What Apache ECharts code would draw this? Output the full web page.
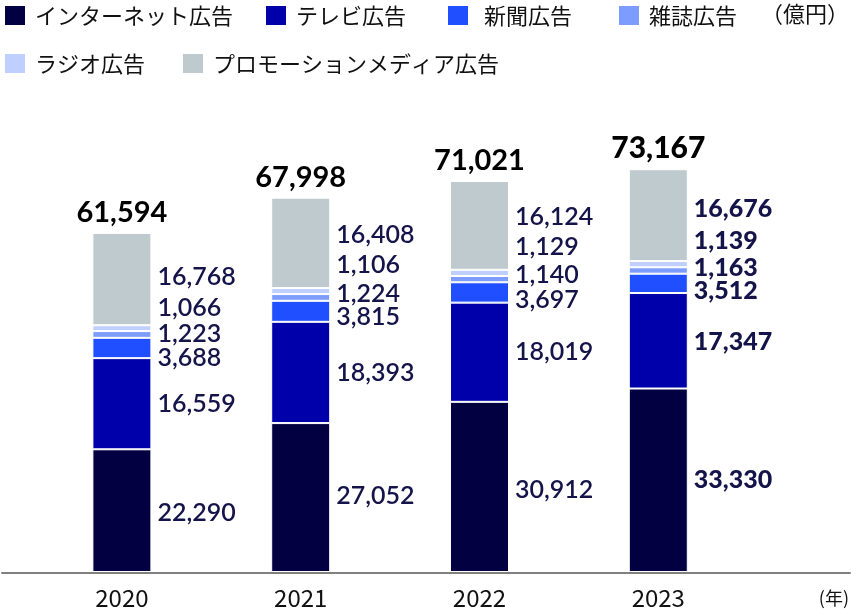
<!DOCTYPE html>
<html><head><meta charset="utf-8">
<script src="https://cdn.jsdelivr.net/npm/echarts@6/dist/echarts.min.js"></script>
<style>html,body{margin:0;padding:0;background:#fff}#c{width:851px;height:610px}</style>
</head><body><div id="c"></div>
<script>
// ---- data ----
const years = ['2020', '2021', '2022', '2023'];
const seriesNames = ['インターネット広告', 'テレビ広告', '新聞広告', '雑誌広告', 'ラジオ広告', 'プロモーションメディア広告'];
const internet = [22290, 27052, 30912, 33330];
const tv = [16559, 18393, 18019, 17347];
const newspaper = [3688, 3815, 3697, 3512];
const magazine = [1223, 1224, 1140, 1163];
const radio = [1066, 1106, 1129, 1139];
const promotion = [16768, 16408, 16124, 16676];
const totals = [61594, 67998, 71021, 73167];
const unitLabel = '（億円）';
const yearUnitLabel = '(年)';

// ---- styles ----
const values = [internet, tv, newspaper, magazine, radio, promotion];
const colors = ['#020040', '#0000aa', '#1f4fff', '#7d9cff', '#bfcfff', '#bfcacf'];
const labelDy = [[2, -2, 3, 0], [0, 0, 0, 1], [10, 6, 7, 8], [-1, -4, -4, -3], [-20, -26, -26, -23], [-2, -8, -8, -6]];
const legendPos = [
  { left: 3, top: 4, pad: 4 }, { left: 264, top: 4, pad: 4 }, { left: 446, top: 4, pad: 10 },
  { left: 617, top: 4, pad: 4 }, { left: 3, top: 52, pad: 4 }, { left: 181, top: 52, pad: 4 }
];
const CJK = '"Noto Sans CJK JP", sans-serif';
const NUM = 'Lato, "Noto Sans", sans-serif';
const fmt = v => Number(v).toLocaleString('en-US');
const gridBox = { top: 131.6, bottom: 37.5 };

const chart = echarts.init(document.getElementById('c'), null, { renderer: 'canvas' });

const barSeries = seriesNames.map((name, s) => ({
  name, type: 'bar', stack: 'total', barWidth: 59,
  xAxisIndex: 0, yAxisIndex: 0,
  itemStyle: { color: colors[s], borderColor: '#ffffff', borderWidth: 1 },
  label: {
    show: true, position: 'right', distance: 6, color: '#14144a',
    fontSize: 25, fontFamily: NUM, fontWeight: 600,
    formatter: p => fmt(p.value)
  },
  emphasis: { disabled: true },
  data: values[s].map((v, i) => ({
    value: v,
    label: { offset: [0, labelDy[s][i]], fontWeight: i === years.length - 1 ? 900 : 600 }
  }))
}));

const totalSeries = {
  name: 'total', type: 'scatter', symbolSize: 0, xAxisIndex: 0, yAxisIndex: 0, z: 10,
  itemStyle: { color: '#000000', opacity: 1 },
  label: {
    show: true, position: 'top', distance: 6, color: '#000000', opacity: 1,
    fontSize: 29, fontFamily: NUM, fontWeight: 700,
    formatter: p => fmt(p.value)
  },
  emphasis: { disabled: true },
  data: totals.map((v, i) => ({ value: v, label: { fontWeight: i === years.length - 1 ? 900 : 700, fontSize: i === years.length - 1 ? 30 : 29 } }))
};

chart.setOption({
  animation: false,
  backgroundColor: '#ffffff',
  title: [
    { text: unitLabel, right: 2, top: 3, padding: 0, textStyle: { fontFamily: CJK, fontSize: 22, fontWeight: 'normal', color: '#111' } },
    { text: yearUnitLabel, right: 2, top: 589, padding: 0, textStyle: { fontFamily: CJK, fontSize: 18, fontWeight: 'normal', color: '#111' } }
  ],
  legend: seriesNames.map((name, s) => ({
    data: [name], left: legendPos[s].left, top: legendPos[s].top, padding: 0,
    icon: 'rect', itemWidth: 22, itemHeight: 21, selectedMode: false,
    textStyle: { fontFamily: CJK, fontSize: 22, color: '#111', padding: [0, 0, 0, legendPos[s].pad] }
  })),
  grid: [
    { left: 32.5, right: 103.3, top: gridBox.top, bottom: gridBox.bottom },
    { left: 2, right: 1, top: gridBox.top, bottom: gridBox.bottom }
  ],
  xAxis: [
    {
      type: 'category', gridIndex: 0, data: years,
      axisLine: { show: false }, axisTick: { show: false },
      axisLabel: { fontFamily: CJK, fontSize: 24, color: '#111', margin: 14, lineHeight: 24 }
    },
    {
      type: 'value', gridIndex: 1, min: 0, max: 1,
      axisLine: { show: true, onZero: false, lineStyle: { color: '#808080', width: 2 } },
      axisTick: { show: false }, axisLabel: { show: false }, splitLine: { show: false }
    }
  ],
  yAxis: [
    { type: 'value', gridIndex: 0, min: 0, max: 80000, show: false },
    { type: 'value', gridIndex: 1, min: 0, max: 1, show: false }
  ],
  series: [...barSeries, totalSeries]
});
</script>
</body></html>
